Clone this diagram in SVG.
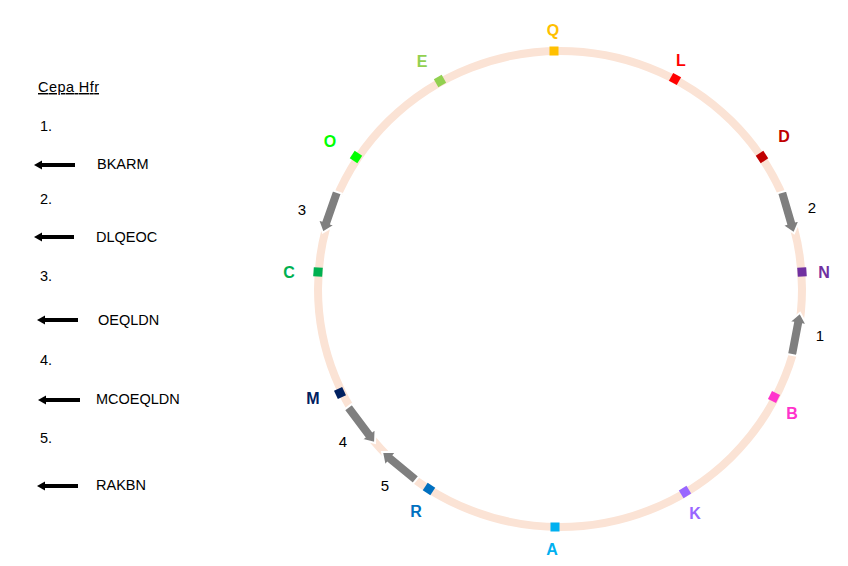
<svg xmlns="http://www.w3.org/2000/svg" width="848" height="566" viewBox="0 0 848 566">
<style>
.t{font-family:"Liberation Sans",Arial,sans-serif;font-size:14.5px;fill:#000}
.lbl{font-family:"Liberation Sans",Arial,sans-serif;font-size:16px;font-weight:bold;text-anchor:middle}
.num{font-family:"Liberation Sans",Arial,sans-serif;font-size:15px;fill:#000;text-anchor:middle}
.ring{fill:none;stroke:#FBE3D5;stroke-width:8}
.blk{fill:#7F7F7F;stroke:#fff;stroke-width:2;stroke-linejoin:miter}
.leg{stroke:#000;stroke-width:4}
</style>
<defs>
<rect id="mk" x="-4.5" y="-4.5" width="9" height="9"/>
<path id="la" d="M0,0 L8,-4.5 L8,4.5 Z"/>
</defs>
<rect width="848" height="566" fill="#fff"/>

<g id="legend">
<text class="t" x="38" y="92" text-decoration="underline" textLength="61">Cepa Hfr</text>
<text class="t" x="40" y="131">1.</text>
<line class="leg" x1="41" y1="165" x2="75" y2="165"/><use href="#la" x="34" y="165"/>
<text class="t" x="97" y="169">BKARM</text>
<text class="t" x="40" y="204">2.</text>
<line class="leg" x1="41" y1="237" x2="74" y2="237"/><use href="#la" x="34" y="237"/>
<text class="t" x="96" y="242">DLQEOC</text>
<text class="t" x="40" y="281">3.</text>
<line class="leg" x1="44" y1="320" x2="78" y2="320"/><use href="#la" x="37" y="320"/>
<text class="t" x="98" y="325">OEQLDN</text>
<text class="t" x="40" y="365">4.</text>
<line class="leg" x1="45" y1="400" x2="80" y2="400"/><use href="#la" x="38" y="400"/>
<text class="t" x="96" y="404">MCOEQLDN</text>
<text class="t" x="40" y="443">5.</text>
<line class="leg" x1="44" y1="486" x2="78" y2="486"/><use href="#la" x="37" y="486"/>
<text class="t" x="96" y="490">RAKBN</text>
</g>

<ellipse id="ring" class="ring" cx="560" cy="289" rx="242" ry="238"/>

<g id="connectors">
<path class="blk" transform="translate(792,355) rotate(-79.2)" d="M0,-5 L32,-5 L32,-9 L43,0 L32,9 L32,5 L0,5 Z"/>
<path class="blk" transform="translate(782,192) rotate(73.7)" d="M0,-5 L32,-5 L32,-9 L43,0 L32,9 L32,5 L0,5 Z"/>
<path class="blk" transform="translate(337,192) rotate(109.3)" d="M0,-5 L32,-5 L32,-9 L43,0 L32,9 L32,5 L0,5 Z"/>
<path class="blk" transform="translate(348,407) rotate(53.1)" d="M0,-5 L34,-5 L34,-9 L45,0 L34,9 L34,5 L0,5 Z"/>
<path class="blk" transform="translate(416,480) rotate(219.5)" d="M0,-5 L33,-5 L33,-9 L44,0 L33,9 L33,5 L0,5 Z"/>
<text class="num" x="820" y="341">1</text>
<text class="num" x="812" y="213">2</text>
<text class="num" x="302" y="215">3</text>
<text class="num" x="343" y="447">4</text>
<text class="num" x="385" y="491">5</text>
</g>

<g id="Q"><use href="#mk" fill="#FFC000" transform="translate(554,51)"/><text class="lbl" fill="#FFC000" x="553" y="36">Q</text></g>
<g id="L"><use href="#mk" fill="#FF0000" transform="translate(675,79) rotate(28.7)"/><text class="lbl" fill="#FF0000" x="681" y="66">L</text></g>
<g id="D"><use href="#mk" fill="#C00000" transform="translate(762,157) rotate(56.8)"/><text class="lbl" fill="#C00000" x="784" y="142">D</text></g>
<g id="N"><use href="#mk" fill="#7030A0" transform="translate(802,272) rotate(86)"/><text class="lbl" fill="#7030A0" x="824" y="278">N</text></g>
<g id="B"><use href="#mk" fill="#FF33CC" transform="translate(774,397) rotate(116.8)"/><text class="lbl" fill="#FF33CC" x="792" y="419">B</text></g>
<g id="K"><use href="#mk" fill="#9966FF" transform="translate(685,492) rotate(148.4)"/><text class="lbl" fill="#9966FF" x="695" y="519">K</text></g>
<g id="A"><use href="#mk" fill="#00B0F0" transform="translate(555,527)"/><text class="lbl" fill="#00B0F0" x="552" y="555">A</text></g>
<g id="R"><use href="#mk" fill="#0070C0" transform="translate(429,489) rotate(213.2)"/><text class="lbl" fill="#0070C0" x="416" y="517">R</text></g>
<g id="M"><use href="#mk" fill="#002060" transform="translate(340,393) rotate(244.7)"/><text class="lbl" fill="#002060" x="313" y="404">M</text></g>
<g id="C"><use href="#mk" fill="#00B050" transform="translate(318,272) rotate(274)"/><text class="lbl" fill="#00B050" x="289" y="278">C</text></g>
<g id="O"><use href="#mk" fill="#00FF00" transform="translate(356,157) rotate(302.9)"/><text class="lbl" fill="#00FF00" x="330" y="147">O</text></g>
<g id="E"><use href="#mk" fill="#92D050" transform="translate(440,81) rotate(330)"/><text class="lbl" fill="#92D050" x="422" y="67">E</text></g>
</svg>
